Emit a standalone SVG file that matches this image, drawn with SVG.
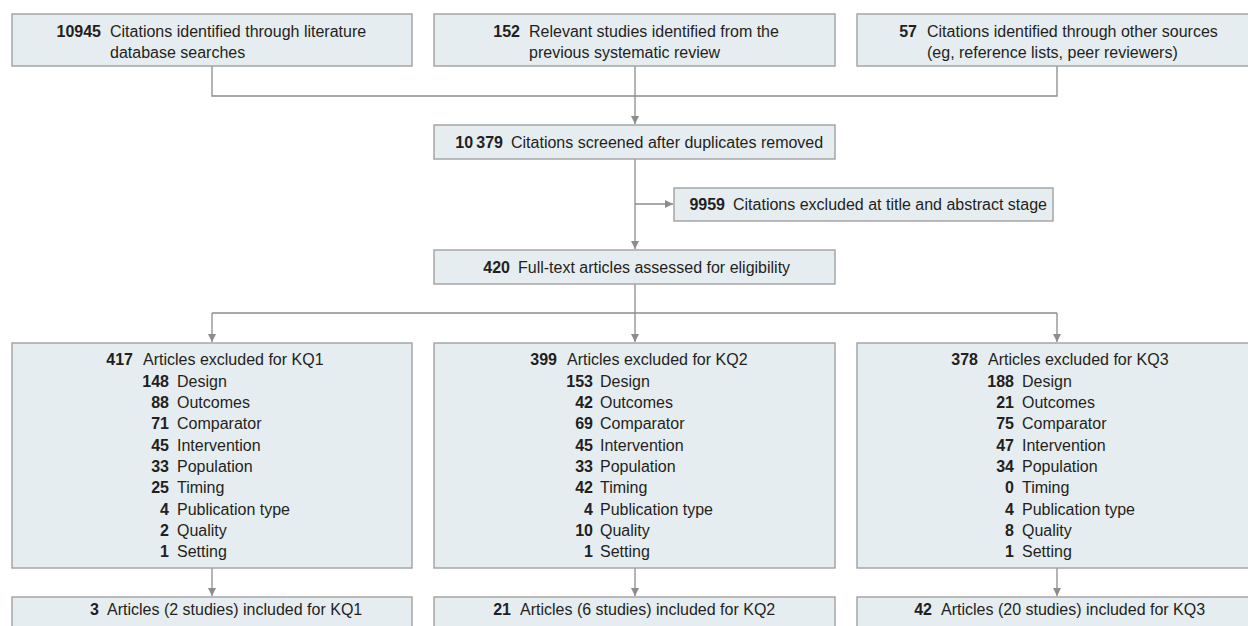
<svg xmlns="http://www.w3.org/2000/svg" width="1248" height="626" viewBox="0 0 1248 626">
<defs>
<style>
.box{fill:#e6edf1;stroke:#a0a0a0;stroke-width:1.4}
text{font-family:"Liberation Sans",Arial,sans-serif;font-size:16px;fill:#231f20}
.n{font-weight:bold;text-anchor:end}
.c{fill:none;stroke:#8c8c8c;stroke-width:1.3}
</style>
<marker id="ah" markerUnits="userSpaceOnUse" markerWidth="9" markerHeight="9" refX="8" refY="4" orient="auto">
<path d="M0,0 L8,4 L0,8 z" fill="#8c8c8c"/>
</marker>
</defs>
<rect width="1248" height="626" fill="#ffffff"/>

<g id="connectors">
<path class="c" d="M212,66 V96 H1057 V66"/>
<path class="c" d="M635,66 V124" marker-end="url(#ah)"/>
<path class="c" d="M635,159 V249" marker-end="url(#ah)"/>
<path class="c" d="M635,204 H673" marker-end="url(#ah)"/>
<path class="c" d="M635,284 V313"/>
<path class="c" d="M212,313 H1057"/>
<path class="c" d="M212,313 V342" marker-end="url(#ah)"/>
<path class="c" d="M635,313 V342" marker-end="url(#ah)"/>
<path class="c" d="M1057,313 V342" marker-end="url(#ah)"/>
<path class="c" d="M212,568 V596" marker-end="url(#ah)"/>
<path class="c" d="M635,568 V596" marker-end="url(#ah)"/>
<path class="c" d="M1057,568 V596" marker-end="url(#ah)"/>
</g>

<g id="src1">
<rect class="box" x="12" y="14" width="400" height="52"/>
<text class="n" x="101" y="37">10945</text>
<text x="110" y="37">Citations identified through literature</text>
<text x="110" y="58">database searches</text>
</g>

<g id="src2">
<rect class="box" x="434" y="14" width="401" height="52"/>
<text class="n" x="520" y="37">152</text>
<text x="529" y="37">Relevant studies identified from the</text>
<text x="529" y="58">previous systematic review</text>
</g>

<g id="src3">
<rect class="box" x="857" y="14" width="401" height="52"/>
<text class="n" x="917" y="37">57</text>
<text x="927" y="37">Citations identified through other sources</text>
<text x="927" y="58">(eg, reference lists, peer reviewers)</text>
</g>

<g id="screened">
<rect class="box" x="434" y="125" width="401" height="34"/>
<text class="n" x="503" y="147.5">10&#8201;379</text>
<text x="511" y="147.5">Citations screened after duplicates removed</text>
</g>

<g id="excluded-title">
<rect class="box" x="674" y="188" width="379" height="33"/>
<text class="n" x="725" y="210">9959</text>
<text x="733" y="210">Citations excluded at title and abstract stage</text>
</g>

<g id="fulltext">
<rect class="box" x="434" y="250" width="401" height="34"/>
<text class="n" x="510" y="273">420</text>
<text x="518" y="273">Full-text articles assessed for eligibility</text>
</g>

<g id="kq1-excluded">
<rect class="box" x="12" y="343" width="400" height="225"/>
<text class="n" x="133" y="365">417</text>
<text x="143" y="365">Articles excluded for KQ1</text>
<text class="n" x="169" y="386.5">148</text><text x="177" y="386.5">Design</text>
<text class="n" x="169" y="408">88</text><text x="177" y="408">Outcomes</text>
<text class="n" x="169" y="429.3">71</text><text x="177" y="429.3">Comparator</text>
<text class="n" x="169" y="450.7">45</text><text x="177" y="450.7">Intervention</text>
<text class="n" x="169" y="472">33</text><text x="177" y="472">Population</text>
<text class="n" x="169" y="493.3">25</text><text x="177" y="493.3">Timing</text>
<text class="n" x="169" y="514.7">4</text><text x="177" y="514.7">Publication type</text>
<text class="n" x="169" y="536">2</text><text x="177" y="536">Quality</text>
<text class="n" x="169" y="557.3">1</text><text x="177" y="557.3">Setting</text>
</g>

<g id="kq2-excluded">
<rect class="box" x="434" y="343" width="401" height="225"/>
<text class="n" x="557" y="365">399</text>
<text x="567" y="365">Articles excluded for KQ2</text>
<text class="n" x="593" y="386.5">153</text><text x="600" y="386.5">Design</text>
<text class="n" x="593" y="408">42</text><text x="600" y="408">Outcomes</text>
<text class="n" x="593" y="429.3">69</text><text x="600" y="429.3">Comparator</text>
<text class="n" x="593" y="450.7">45</text><text x="600" y="450.7">Intervention</text>
<text class="n" x="593" y="472">33</text><text x="600" y="472">Population</text>
<text class="n" x="593" y="493.3">42</text><text x="600" y="493.3">Timing</text>
<text class="n" x="593" y="514.7">4</text><text x="600" y="514.7">Publication type</text>
<text class="n" x="593" y="536">10</text><text x="600" y="536">Quality</text>
<text class="n" x="593" y="557.3">1</text><text x="600" y="557.3">Setting</text>
</g>

<g id="kq3-excluded">
<rect class="box" x="857" y="343" width="401" height="225"/>
<text class="n" x="978" y="365">378</text>
<text x="988" y="365">Articles excluded for KQ3</text>
<text class="n" x="1014" y="386.5">188</text><text x="1022" y="386.5">Design</text>
<text class="n" x="1014" y="408">21</text><text x="1022" y="408">Outcomes</text>
<text class="n" x="1014" y="429.3">75</text><text x="1022" y="429.3">Comparator</text>
<text class="n" x="1014" y="450.7">47</text><text x="1022" y="450.7">Intervention</text>
<text class="n" x="1014" y="472">34</text><text x="1022" y="472">Population</text>
<text class="n" x="1014" y="493.3">0</text><text x="1022" y="493.3">Timing</text>
<text class="n" x="1014" y="514.7">4</text><text x="1022" y="514.7">Publication type</text>
<text class="n" x="1014" y="536">8</text><text x="1022" y="536">Quality</text>
<text class="n" x="1014" y="557.3">1</text><text x="1022" y="557.3">Setting</text>
</g>

<g id="kq1-included">
<rect class="box" x="12" y="597" width="400" height="40"/>
<text class="n" x="99" y="615">3</text>
<text x="107" y="615">Articles (2 studies) included for KQ1</text>
</g>

<g id="kq2-included">
<rect class="box" x="434" y="597" width="401" height="40"/>
<text class="n" x="511" y="615">21</text>
<text x="520" y="615">Articles (6 studies) included for KQ2</text>
</g>

<g id="kq3-included">
<rect class="box" x="857" y="597" width="401" height="40"/>
<text class="n" x="932" y="615">42</text>
<text x="941" y="615">Articles (20 studies) included for KQ3</text>
</g>
</svg>
